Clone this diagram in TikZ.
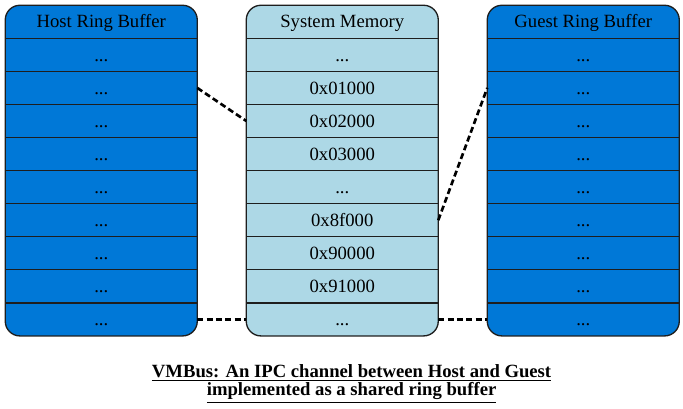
\documentclass[tikz,border=0pt]{standalone}
\usepackage{fontspec}
\setmainfont{Liberation Serif}
\usepackage{xcolor}
\usepackage{tikz}
\usetikzlibrary{positioning}
\usetikzlibrary{backgrounds}
\definecolor{ringblue}{RGB}{0, 120, 215}
\definecolor{memblue}{RGB}{173, 216, 230}
\definecolor{edgegray}{RGB}{30, 30, 30}

\begin{document}
\begin{tikzpicture}[
            cell/.style = {minimum width=144pt, minimum height=24.8pt, inner sep=0pt, outer sep=0pt, text height=9.3pt, text depth=0pt, text=black, font=\fontsize{14pt}{16pt}\selectfont},
            column/.style = {draw=edgegray, line width=1pt, rounded corners=11pt},
            link/.style = {draw=black, line width=2pt, dash pattern=on 4.5pt off 2.5pt}]
        \useasboundingbox (0,0) rectangle (512.25pt,-306.75pt);
        \matrix (buf) [anchor=north west, inner sep=0pt, column sep=36.75pt, row sep=0pt] at (3.75pt,-3.75pt) {
        \node[cell] (h0) {Host Ring Buffer}; & \node[cell] (m0) {System Memory}; & \node[cell] (g0) {Guest Ring Buffer}; \\
        \node[cell] (h1) {...}; & \node[cell] (m1) {...}; & \node[cell] (g1) {...}; \\
        \node[cell] (h2) {...}; & \node[cell] (m2) {0x01000}; & \node[cell] (g2) {...}; \\
        \node[cell] (h3) {...}; & \node[cell] (m3) {0x02000}; & \node[cell] (g3) {...}; \\
        \node[cell] (h4) {...}; & \node[cell] (m4) {0x03000}; & \node[cell] (g4) {...}; \\
        \node[cell] (h5) {...}; & \node[cell] (m5) {...}; & \node[cell] (g5) {...}; \\
        \node[cell] (h6) {...}; & \node[cell] (m6) {0x8f000}; & \node[cell] (g6) {...}; \\
        \node[cell] (h7) {...}; & \node[cell] (m7) {0x90000}; & \node[cell] (g7) {...}; \\
        \node[cell] (h8) {...}; & \node[cell] (m8) {0x91000}; & \node[cell] (g8) {...}; \\
        \node[cell] (h9) {...}; & \node[cell] (m9) {...}; & \node[cell] (g9) {...}; \\
        };
        \begin{scope}[on background layer]
        \draw[column, fill=ringblue] (h0.north west) rectangle (h9.south east);
        \draw[column, fill=memblue] (m0.north west) rectangle (m9.south east);
        \draw[column, fill=ringblue] (g0.north west) rectangle (g9.south east);
        \end{scope}
        % row separators
        \foreach \c in {h,m,g}
            \foreach \i in {0,...,8}
                \draw[draw=edgegray, line width=1pt] (\c\i.south west) -- (\c\i.south east);

        \draw[link] (h2.east) -- (m3.west);
        \draw[link] (m6.east) -- (g2.west);
        \draw[link] (h9.east) -- (m9.west);
        \draw[link] (m9.east) -- (g9.west);

        \node[below=18pt of buf, xshift=7pt, align=center, font=\fontsize{14pt}{13.5pt}\selectfont\bfseries] (caption)
            {\underline{VMBus: An IPC channel between Host and Guest}\\\underline{implemented as a shared ring buffer}};
        \end{tikzpicture}
\end{document}
